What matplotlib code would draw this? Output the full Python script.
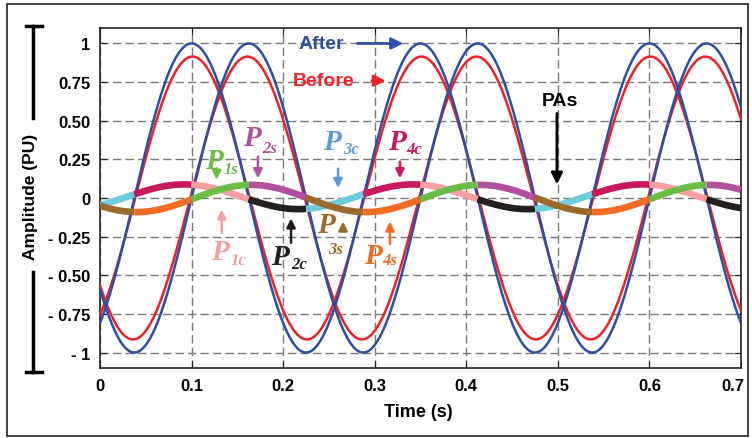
import numpy as np
import matplotlib.pyplot as plt
import matplotlib.transforms as mtransforms
from matplotlib.patches import Rectangle
from matplotlib.lines import Line2D

plt.rcParams['font.family'] = ['Liberation Sans', 'DejaVu Sans']

# wave parameters (4 Hz, peak times in s)
freq = 4.0
after_amp = [1.0, 1.0]
after_peak = [0.100, 0.1625]
before_amp = [0.915, 0.915]
before_peak = [0.101, 0.161]

# the two small PA traces, colour changes every quarter period
pa_offset = [0.008, -0.003]
pa_amp = [0.080, 0.088]
pa_peak = [0.092, 0.165]
seg_start = -0.025
seg_len = 0.0625
pa_colors = [["#6ccbdc", "#c8185e", "#f4a0a0", "#231f20"],
             ["#9c6a28", "#f26b22", "#6cbd45", "#b24f9f"]]

xticks = [0, 0.1, 0.2, 0.3, 0.4, 0.5, 0.6, 0.7]
xtick_labels = ["0", "0.1", "0.2", "0.3", "0.4", "0.5", "0.6", "0.7"]
yticks = [-1, -0.75, -0.5, -0.25, 0, 0.25, 0.5, 0.75, 1]
ytick_labels = ["- 1", "- 0.75", "- 0.50", "- 0.25", "0", "0.25", "0.50", "0.75", "1"]

# P labels: subscript text and colour
p_names = ["1s", "2s", "3c", "4c", "1c", "2c", "3s", "4s"]
p_colors = ["#6cbd45", "#b24f9f", "#5b9bd5", "#c8185e",
            "#f4a0a0", "#231f20", "#9c6a28", "#f26b22"]

BLUE = "#2c4fa3"
RED = "#ee2127"


def wave(t, amp, peak, off=0.0):
    return off + amp * np.cos(2 * np.pi * freq * (t - peak))


def main():
    fig = plt.figure(figsize=(7.52, 4.39), dpi=100)
    W, H = 752, 439

    def fx(px):
        return px / W

    def fy(py):
        return 1 - py / H

    ax = fig.add_axes([fx(100), fy(369), fx(741) - fx(100), fy(29) - fy(369)])

    t = np.linspace(0, 0.7, 1400)
    for a, p in zip(before_amp, before_peak):
        ax.plot(t, wave(t, a, p), color=RED, lw=1.8, zorder=3)
    for a, p in zip(after_amp, after_peak):
        ax.plot(t, wave(t, a, p), color=BLUE, lw=1.8, zorder=4)

    # PA traces, one colour per quarter period
    n_seg = int(np.ceil((0.7 - seg_start) / seg_len))
    for k in range(2):
        for s in range(n_seg):
            t0 = max(0, seg_start + s * seg_len)
            t1 = min(0.7, seg_start + (s + 1) * seg_len)
            if t1 <= t0:
                continue
            ts = np.linspace(t0, t1, 60)
            ax.plot(ts, wave(ts, pa_amp[k], pa_peak[k], pa_offset[k]),
                    color=pa_colors[k][s % 4], lw=4.8, solid_capstyle='butt', zorder=5)

    ax.set_xlim(0, 0.7)
    ax.set_ylim(-1.1, 1.1)
    ax.set_xticks(xticks)
    ax.set_xticklabels(xtick_labels, fontsize=12, fontweight='bold')
    ax.set_yticks(yticks)
    ax.set_yticklabels(ytick_labels, fontsize=12, fontweight='bold')
    ax.tick_params(direction='in', length=5, top=True, right=True, pad=7, color='#222222')
    ax.grid(True, linestyle=(0, (6, 3)), color='#7a7a7a', lw=1)
    for sp in ax.spines.values():
        sp.set_color('#222222')
        sp.set_linewidth(1.2)
    # last x label sits a bit left of its tick, as in the original
    last = ax.get_xticklabels()[-1]
    last.set_transform(last.get_transform() +
                       mtransforms.ScaledTranslation(-8 / 100, 0, fig.dpi_scale_trans))

    # After / Before / PAs
    ax.text(0.2413, 1.0, "After", color=BLUE, fontsize=14, fontweight='bold',
            ha='center', va='center')
    ax.annotate("", xy=(0.334, 1.0), xytext=(0.278, 1.0),
                arrowprops=dict(arrowstyle='-|>', color=BLUE, lw=2, mutation_scale=17))
    ax.text(0.2446, 0.759, "Before", color=RED, fontsize=14, fontweight='bold',
            ha='center', va='center')
    ax.annotate("", xy=(0.315, 0.759), xytext=(0.294, 0.759),
                arrowprops=dict(arrowstyle='-|>', color=RED, lw=2, mutation_scale=17))
    ax.text(0.5018, 0.63, "PAs", color='black', fontsize=14, fontweight='bold',
            ha='center', va='center')
    ax.annotate("", xy=(0.499, 0.07), xytext=(0.499, 0.565),
                arrowprops=dict(arrowstyle='-|>', color='black', lw=2, mutation_scale=17))

    # P labels: P position, subscript position, arrow tail, arrow tip
    p_pos = [(0.124, 0.242), (0.1654, 0.389), (0.2528, 0.366), (0.3238, 0.366),
             (0.131, -0.346), (0.1966, -0.379), (0.2463, -0.17), (0.2976, -0.372)]
    sub_pos = [(0.1435, 0.19), (0.185, 0.325), (0.274, 0.315), (0.3434, 0.315),
               (0.151, -0.400), (0.2178, -0.43), (0.2575, -0.33), (0.316, -0.400)]
    arr = [((0.1274, 0.21), (0.1274, 0.10)), ((0.1725, 0.286), (0.1725, 0.11)),
           ((0.260, 0.208), (0.260, 0.047)), ((0.3276, 0.254), (0.3276, 0.11)),
           ((0.1329, -0.243), (0.1329, -0.056)), ((0.2086, -0.308), (0.2086, -0.114)),
           ((0.2654, -0.217), (0.2654, -0.134)), ((0.3167, -0.314), (0.3167, -0.134))]
    for name, c, pp, sp, (tail, tip) in zip(p_names, p_colors, p_pos, sub_pos, arr):
        ax.text(pp[0], pp[1], "P", color=c, fontsize=21, fontweight='bold',
                fontstyle='italic', family='Liberation Serif', ha='center', va='center', zorder=6)
        ax.text(sp[0], sp[1], name, color=c, fontsize=12, fontweight='bold',
                fontstyle='italic', family='Liberation Serif', ha='center', va='center', zorder=6)
        ax.annotate("", xy=tip, xytext=tail,
                    arrowprops=dict(arrowstyle='-|>', color=c, lw=1.8, mutation_scale=13),
                    zorder=6)

    fig.text(fx(418), fy(413), "Time (s)", fontsize=13, fontweight='bold',
             ha='center', va='center')
    fig.text(fx(31), fy(197), "Amplitude (PU)", fontsize=12.5, fontweight='bold',
             rotation=90, ha='center', va='center')

    # bracket bars beside the y label
    bar = dict(color='black', lw=2.5, transform=fig.transFigure)
    fig.lines.append(Line2D([fx(33), fx(33)], [fy(27), fy(119)], **bar))
    fig.lines.append(Line2D([fx(26), fx(42)], [fy(27), fy(27)], **bar))
    fig.lines.append(Line2D([fx(33), fx(33)], [fy(273), fy(373)], **bar))
    fig.lines.append(Line2D([fx(26), fx(42)], [fy(373), fy(373)], **bar))

    # outer frame
    fig.patches.append(Rectangle((fx(7), fy(437)), fx(748) - fx(7), fy(5) - fy(437),
                                 fill=False, edgecolor='#333333', lw=1.3,
                                 transform=fig.transFigure))

    fig.savefig("out.png", dpi=100)


if __name__ == "__main__":
    main()
